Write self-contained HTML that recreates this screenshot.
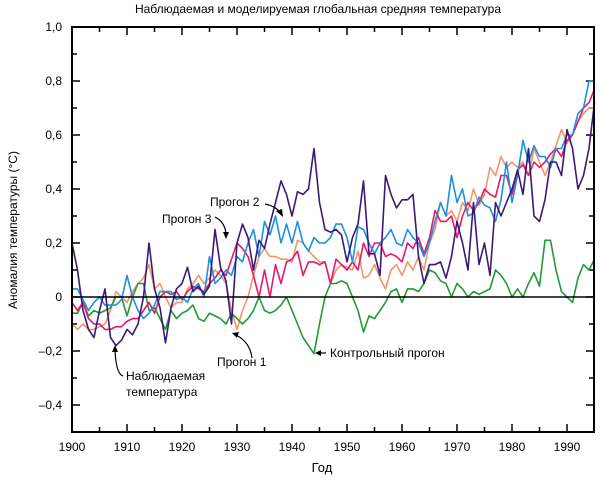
<!DOCTYPE html>
<html><head><meta charset="utf-8"><style>
body{margin:0;background:#fff}
svg{display:block;font-family:"Liberation Sans",sans-serif}
</style></head><body>
<svg id="s" width="600" height="478" viewBox="0 0 600 478">
<text x="318" y="13" font-size="12" text-anchor="middle">Наблюдаемая и моделируемая глобальная средняя температура</text>
<g font-size="12" text-anchor="end">
<text x="62" y="31">1,0</text><text x="62" y="85">0,8</text><text x="62" y="139">0,6</text>
<text x="62" y="193">0,4</text><text x="62" y="247">0,2</text><text x="62" y="301">0</text>
<text x="62" y="355">–0,2</text><text x="62" y="409">–0,4</text>
</g>
<g font-size="12" text-anchor="middle" id="xl"></g>
<text x="322" y="472" font-size="13" text-anchor="middle">Год</text>
<text transform="translate(17,230) rotate(-90)" font-size="12" text-anchor="middle">Аномалия температуры (°C)</text>
<g id="ticks" stroke="#000" stroke-width="1.5"></g>
<g id="series" fill="none" stroke-width="1.6" stroke-linejoin="round"></g>
<line x1="72" y1="297" x2="594" y2="297" stroke="#000" stroke-width="1.5"/>
<rect x="72" y="27" width="522" height="405" fill="none" stroke="#000" stroke-width="2"/>
<g font-size="12">
<text x="210" y="206">Прогон 2</text>
<text x="162" y="223">Прогон 3</text>
<text x="217" y="366">Прогон 1</text>
<text x="330" y="357">Контрольный прогон</text>
<text x="126" y="380">Наблюдаемая</text>
<text x="126" y="396">температура</text>
</g>
<g fill="none" stroke="#000" stroke-width="1.2">
<path d="M265 204 Q275 206 280 212"/><path d="M215 217 Q225 222 226 234"/>
<path d="M252 358 Q250 342 236 335"/><path d="M326 353 L320 353"/>
<path d="M123 376 Q116 374 115 350"/>
</g>
<g fill="#000">
<path d="M283 217 L276 211 L282 209Z"/><path d="M226 239 L223 232 L229 232Z"/>
<path d="M232 333 L239 332 L237 338Z"/><path d="M315 353 L321 350 L321 356Z"/>
<path d="M115 345 L112 352 L118 352Z"/>
</g>
</svg>
<script>
var X=y=>72+(y-1900)*5.5, Y=v=>297-v*270, ns="http://www.w3.org/2000/svg";
var t=document.getElementById('ticks'),xl=document.getElementById('xl');
function ln(a,b,c,d){var l=document.createElementNS(ns,'line');l.setAttribute('x1',a);l.setAttribute('y1',b);l.setAttribute('x2',c);l.setAttribute('y2',d);t.appendChild(l);}
for(var yr=1905;yr<1995;yr+=5){var L=yr%10?5:8;ln(X(yr),432,X(yr),432-L);ln(X(yr),27,X(yr),27+L);}
for(var yr=1900;yr<=1990;yr+=10){var e=document.createElementNS(ns,'text');e.setAttribute('x',X(yr));e.setAttribute('y',451);e.textContent=yr;xl.appendChild(e);}
for(var k=-4;k<10;k++){var v=k/10,L=(k%2)?5:8;ln(72,Y(v),72+L,Y(v));ln(594,Y(v),594-L,Y(v));}
var D={
"#f4956a":[-0.1,-0.12,-0.1,-0.12,-0.12,-0.11,-0.1,-0.05,0.02,0.0,-0.02,0.02,0.05,0.07,0.12,0.03,0.05,0.0,-0.04,-0.02,-0.02,0.03,0.05,0.08,0.05,0.07,0.1,0.08,0.05,-0.05,-0.12,-0.05,0.0,0.08,0.15,0.18,0.15,0.15,0.14,0.14,0.13,0.21,0.2,0.17,0.15,0.13,0.13,0.05,0.1,0.12,0.11,0.1,0.17,0.07,0.08,0.12,0.07,0.03,0.1,0.12,0.08,0.13,0.1,0.15,0.1,0.2,0.25,0.35,0.3,0.32,0.28,0.35,0.32,0.4,0.34,0.38,0.48,0.45,0.52,0.48,0.5,0.48,0.5,0.45,0.55,0.5,0.45,0.5,0.56,0.62,0.57,0.6,0.65,0.68,0.7,0.7],
"#229a35":[-0.06,-0.06,-0.02,-0.07,-0.05,-0.06,-0.05,-0.04,0.0,0.0,-0.07,0.0,0.05,0.05,-0.05,-0.04,-0.08,-0.12,-0.05,-0.08,-0.06,-0.05,-0.03,-0.08,-0.09,-0.06,-0.07,-0.08,-0.1,-0.06,-0.08,-0.1,-0.08,-0.05,0.0,-0.05,-0.06,-0.05,-0.03,0.0,-0.05,-0.1,-0.15,-0.18,-0.21,-0.1,0.0,0.05,0.05,0.06,0.05,0.0,-0.05,-0.13,-0.07,-0.08,-0.05,-0.02,0.02,0.03,-0.02,0.03,0.03,0.02,0.05,0.1,0.09,0.06,0.05,0.0,0.05,0.03,0.0,0.02,0.01,0.02,0.03,0.1,0.08,0.05,0.0,0.03,0.0,0.05,0.09,0.04,0.21,0.21,0.1,0.02,0.0,-0.02,0.07,0.12,0.1,0.14],
"#e8186a":[-0.02,-0.05,-0.02,-0.08,-0.1,-0.1,-0.12,-0.12,-0.11,-0.11,-0.09,-0.08,-0.08,-0.05,-0.02,-0.06,0.0,0.02,0.01,0.02,-0.01,0.02,0.04,0.03,0.02,0.05,0.07,0.1,0.08,0.14,0.2,0.18,0.15,0.08,0.0,0.1,0.0,0.12,0.05,0.13,0.14,0.17,0.08,0.13,0.13,0.12,0.13,0.05,0.14,0.12,0.1,0.13,0.1,0.2,0.15,0.2,0.2,0.15,0.16,0.15,0.13,0.2,0.18,0.22,0.16,0.22,0.32,0.28,0.28,0.3,0.22,0.3,0.35,0.32,0.35,0.4,0.38,0.37,0.45,0.45,0.38,0.47,0.49,0.45,0.5,0.48,0.5,0.53,0.55,0.52,0.58,0.6,0.65,0.7,0.72,0.77],
"#1e90e0":[0.03,0.03,-0.01,-0.05,-0.02,0.0,-0.03,-0.03,-0.03,-0.01,0.08,0.0,-0.05,-0.08,-0.06,-0.03,0.02,0.02,0.02,-0.01,0.0,-0.02,0.03,0.05,0.0,0.15,0.05,0.07,0.1,0.08,0.15,0.13,0.2,0.25,0.15,0.28,0.23,0.3,0.2,0.27,0.2,0.28,0.2,0.17,0.22,0.2,0.2,0.22,0.27,0.27,0.22,0.13,0.26,0.25,0.2,0.16,0.2,0.22,0.25,0.2,0.19,0.25,0.22,0.2,0.15,0.2,0.28,0.35,0.3,0.45,0.35,0.4,0.3,0.31,0.37,0.34,0.33,0.28,0.36,0.5,0.35,0.45,0.58,0.5,0.56,0.52,0.52,0.48,0.55,0.55,0.6,0.6,0.68,0.7,0.8,0.8,0.82],
"#3a1a78":[0.2,0.1,-0.05,-0.12,-0.15,-0.05,0.03,-0.15,-0.18,-0.16,-0.12,-0.14,-0.1,0.0,0.2,0.03,-0.04,-0.17,-0.04,0.03,0.05,0.11,0.02,0.04,0.01,0.04,0.25,0.11,0.06,-0.1,0.2,0.27,0.22,0.1,0.21,0.18,0.27,0.35,0.43,0.38,0.3,0.39,0.38,0.4,0.55,0.35,0.25,0.24,0.25,0.23,0.13,0.22,0.27,0.43,0.16,0.16,0.08,0.45,0.38,0.33,0.36,0.36,0.38,0.15,0.05,0.12,0.12,0.13,0.07,0.15,0.28,0.2,0.1,0.35,0.12,0.2,0.08,0.35,0.3,0.35,0.4,0.47,0.38,0.55,0.3,0.28,0.36,0.5,0.5,0.45,0.62,0.55,0.4,0.45,0.55,0.72]};
var g=document.getElementById('series');
for(var c in D){var p=document.createElementNS(ns,'polyline'),pts=[];D[c].forEach((v,i)=>{if(i<=95)pts.push(X(1900+i).toFixed(1)+','+Y(v).toFixed(1));});p.setAttribute('points',pts.join(' '));p.setAttribute('stroke',c);g.appendChild(p);}
</script>
</body></html>
